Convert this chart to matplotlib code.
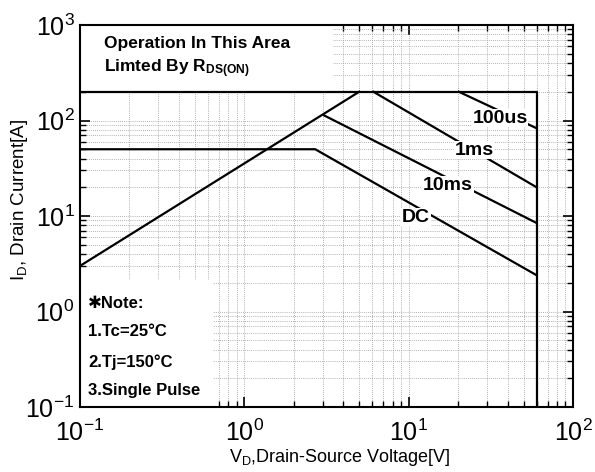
import numpy as np
import matplotlib.pyplot as plt
from matplotlib.patches import Rectangle

plt.rcParams['font.family'] = ['Liberation Sans', 'DejaVu Sans']
plt.rcParams['mathtext.fontset'] = 'custom'
plt.rcParams['mathtext.rm'] = 'Liberation Sans'
plt.rcParams['mathtext.it'] = 'Liberation Sans'
plt.rcParams['mathtext.bf'] = 'Liberation Sans:bold'

# SOA boundary curves (V, A)
rds_v = [0.1, 5.0]
rds_i = [3.0, 200]
dc_v = [0.1, 2.7, 60]
dc_i = [50, 50, 2.4]
ms10_v = [3.03, 60]
ms10_i = [114, 8.45]
ms1_v = [6.1, 60]
ms1_i = [200, 20]
us100_v = [20.2, 60]
us100_i = [200, 83]
imax_v = [0.1, 60, 60]
imax_i = [200, 200, 0.1]

fig = plt.figure(figsize=(5.95, 4.72), dpi=100)
ax = fig.add_axes([80/595, 65/472, 493/595, 382/472])
ax.set_xscale('log')
ax.set_yscale('log')
ax.set_xlim(0.1, 100)
ax.set_ylim(0.1, 1000)

ax.set_axisbelow(True)
ax.grid(True, which='both', color='#999999', linestyle=(0, (1, 1.5)), linewidth=0.6)

# white boxes that hide the grid behind the notes
ax.add_patch(Rectangle((0, (407-91)/382), (333-80)/493, 1, transform=ax.transAxes,
                       facecolor='white', edgecolor='none', zorder=1))
ax.add_patch(Rectangle((0, 0), (213-80)/493, (407-280)/382, transform=ax.transAxes,
                       facecolor='white', edgecolor='none', zorder=1))

for xs, ys in [(rds_v, rds_i), (dc_v, dc_i), (ms10_v, ms10_i), (ms1_v, ms1_i),
               (us100_v, us100_i), (imax_v, imax_i)]:
    ax.plot(xs, ys, color='black', lw=1.6, zorder=2)

def axpos(px, py):
    return (px - 80) / 493, (407 - py) / 382

lbl = dict(fontsize=14, fontweight='bold', transform=ax.transAxes, zorder=3,
           ha='center', va='center',
           bbox=dict(facecolor='white', edgecolor='none', pad=0.5))
ax.text(*axpos(500, 118), '100us', **lbl)
ax.text(*axpos(474, 150), '1ms', **lbl)
ax.text(*axpos(448, 185), '10ms', **lbl)
ax.text(*axpos(416, 217), 'DC', **lbl)

note = dict(fontsize=12.5, fontweight='bold', transform=ax.transAxes, zorder=3,
            ha='left', va='center')
ax.text(*axpos(104, 43), 'Operation In This Area', **note)
ax.text(*axpos(104, 69), r'Limted By R$_{\mathbf{DS(ON)}}$', **note)
note['fontsize'] = 12
ax.text(*axpos(88, 303), '\u2731Note:', **note)
ax.text(*axpos(88, 332), '1.Tc=25\u00b0C', **note)
ax.text(*axpos(88, 362), '2.Tj=150\u00b0C', **note)
ax.text(*axpos(88, 390), '3.Single Pulse', **note)

ax.tick_params(which='both', direction='in', top=True, right=True, labelsize=18)
ax.tick_params(which='major', length=7, width=1.2)
ax.tick_params(which='minor', length=4, width=1)
ax.tick_params(axis='x', pad=9)
ax.tick_params(axis='y', pad=4)
for s in ax.spines.values():
    s.set_linewidth(1.5)

fig.text(340/595, 1 - 457/472, r'V$_\mathregular{D}$,Drain-Source Voltage[V]',
         fontsize=13, ha='center', va='center')
fig.text(20/595, 1 - 200/472, r'I$_\mathregular{D}$, Drain Current[A]',
         fontsize=13.5, ha='center', va='center', rotation=90)

fig.savefig('out.png', dpi=100)
